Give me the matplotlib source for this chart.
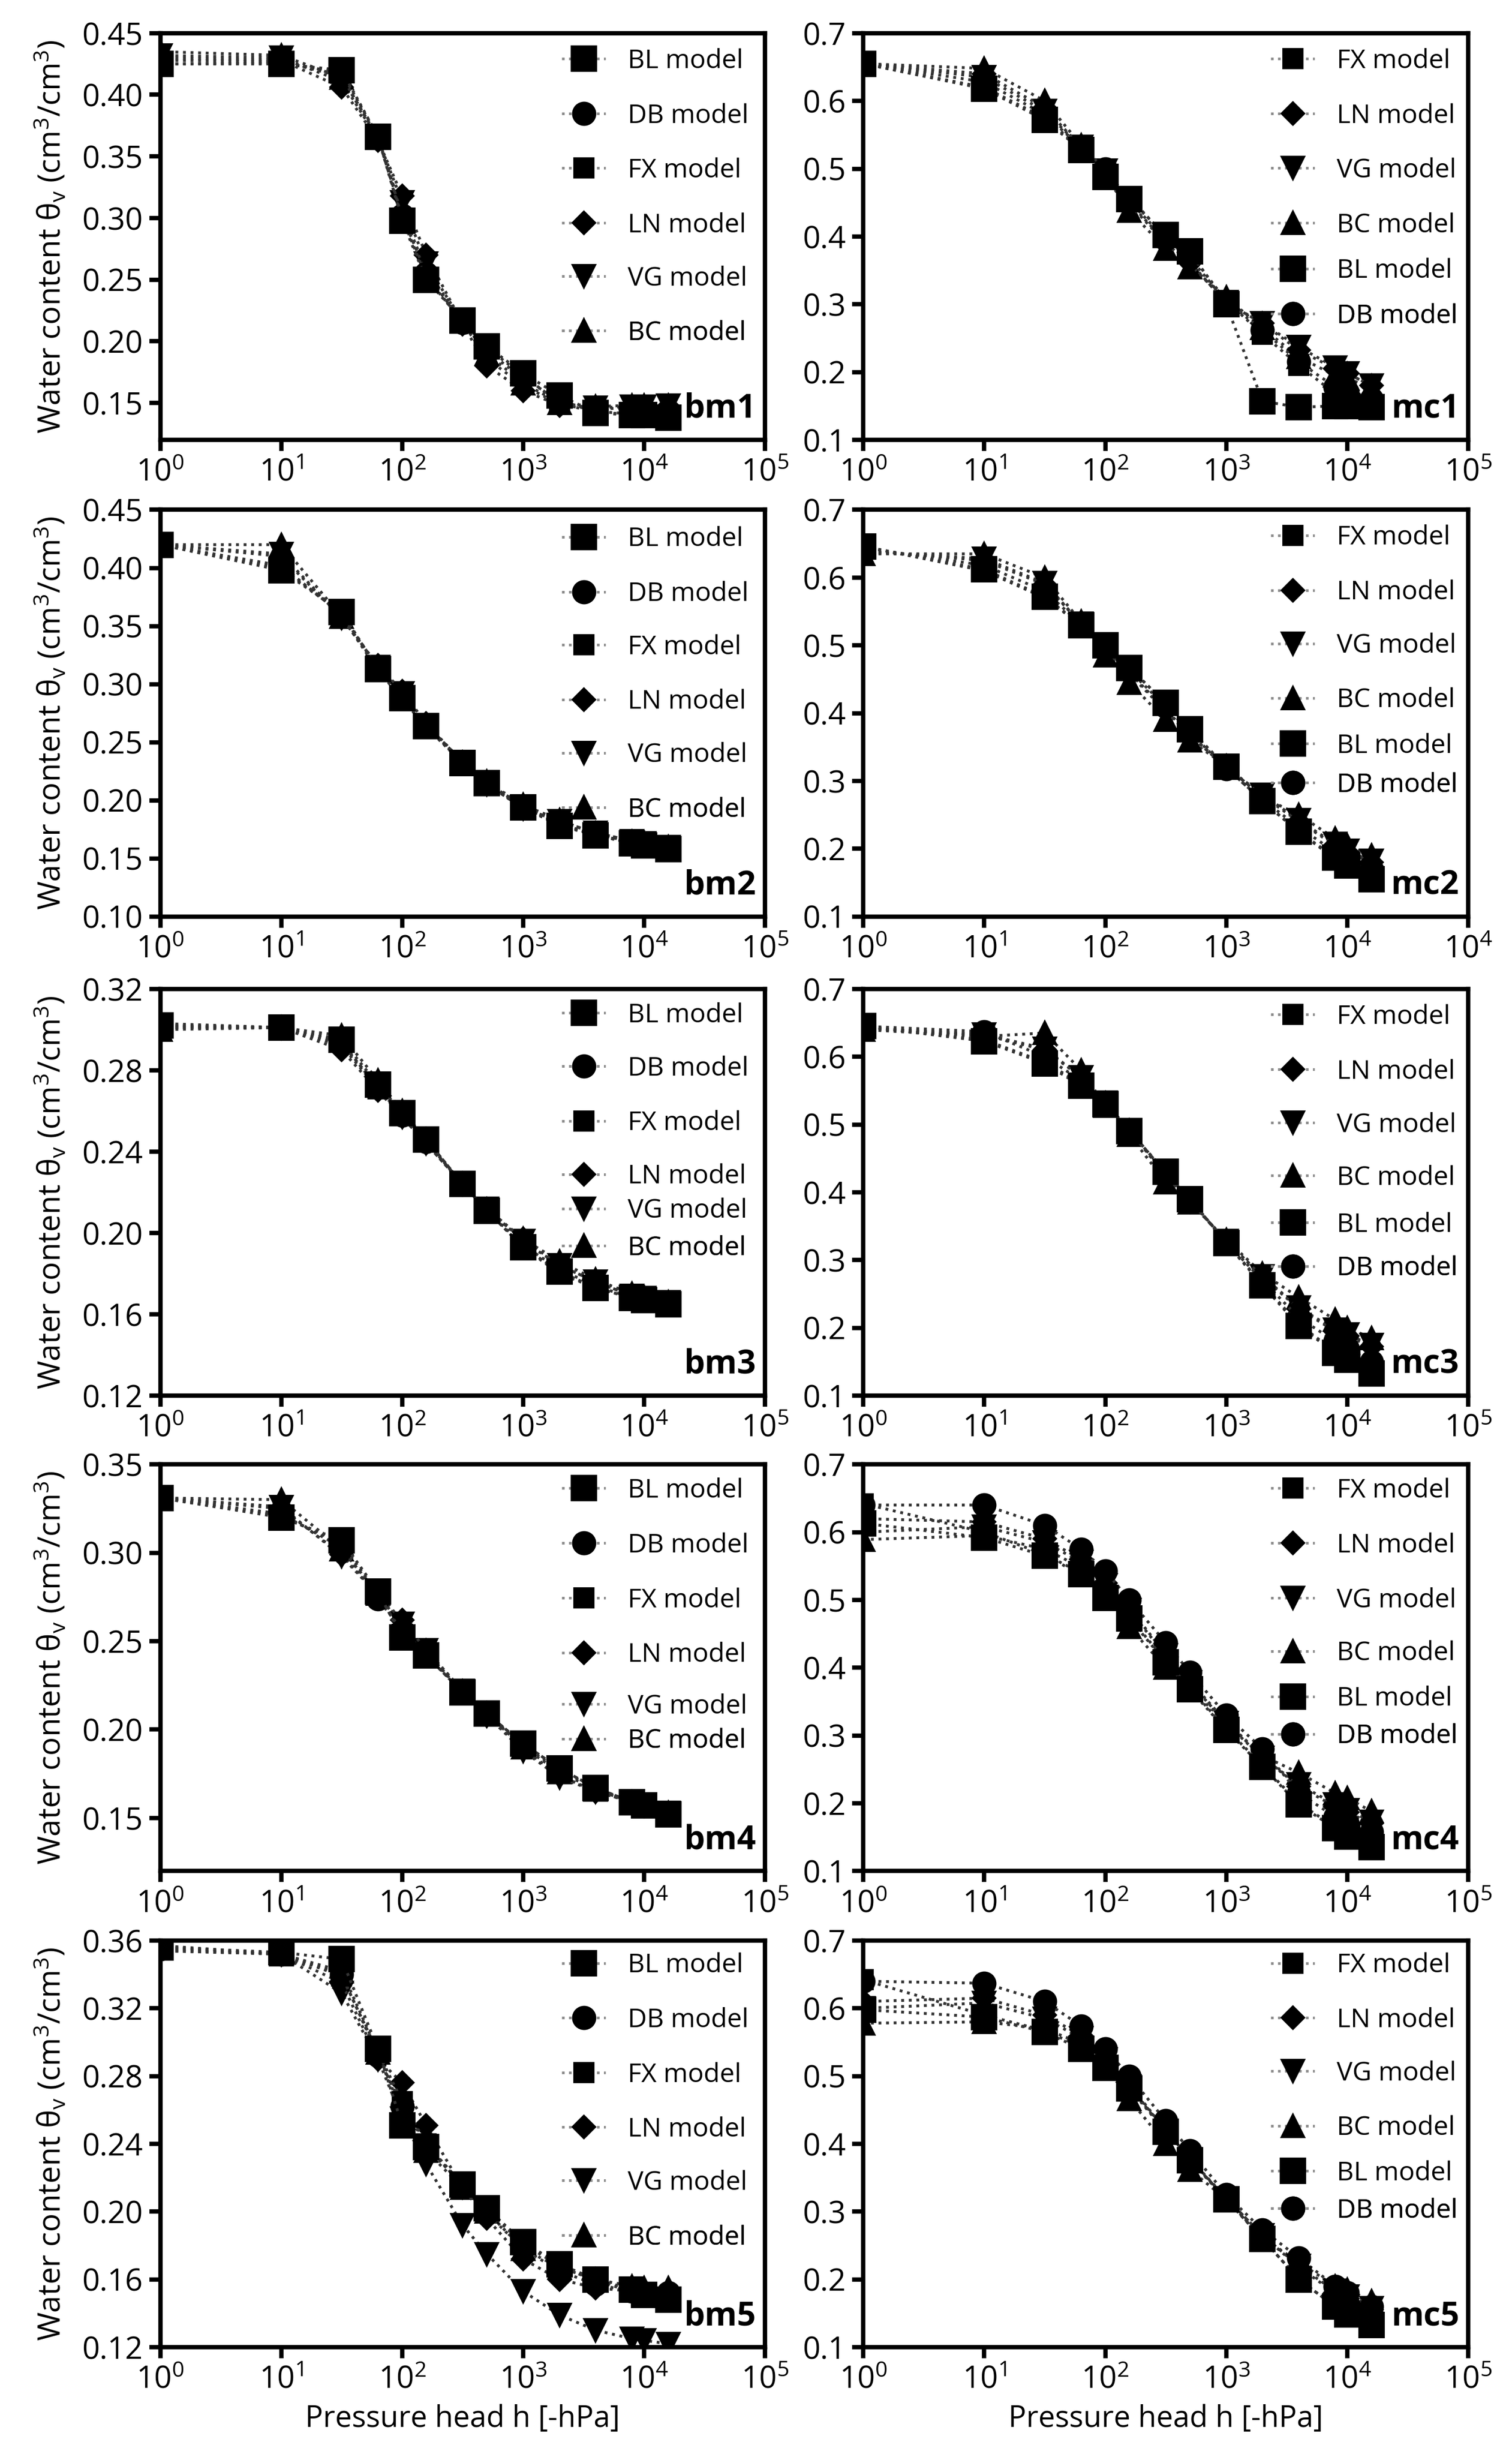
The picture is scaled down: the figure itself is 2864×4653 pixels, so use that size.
import matplotlib
matplotlib.use("Agg")
import matplotlib.pyplot as plt
from matplotlib.lines import Line2D
from matplotlib.ticker import FixedLocator, LogLocator, NullLocator, FormatStrFormatter

plt.rcParams["font.family"] = ["Open Sans", "DejaVu Sans"]
plt.rcParams["mathtext.fontset"] = "custom"
plt.rcParams["mathtext.rm"] = "Open Sans"
plt.rcParams["mathtext.it"] = "Open Sans:italic"
plt.rcParams["mathtext.bf"] = "Open Sans:bold"

# pressure heads (hPa) of the measured points
h = [1, 10, 31.6, 63.1, 100, 158, 316, 501, 1000, 1995, 3981, 7943, 10000, 15849]

bm1 = {
    "BL": [0.425, 0.425, 0.420, 0.366, 0.298, 0.250, 0.217, 0.196, 0.174, 0.156, 0.142, 0.140, 0.140, 0.138],
    "DB": [0.428, 0.427, 0.415, 0.365, 0.302, 0.255, 0.215, 0.192, 0.170, 0.152, 0.143, 0.141, 0.140, 0.139],
    "FX": [0.425, 0.426, 0.418, 0.366, 0.300, 0.252, 0.216, 0.195, 0.172, 0.150, 0.142, 0.141, 0.140, 0.139],
    "LN": [0.430, 0.428, 0.406, 0.363, 0.318, 0.270, 0.214, 0.180, 0.160, 0.148, 0.145, 0.146, 0.146, 0.147],
    "VG": [0.432, 0.430, 0.411, 0.364, 0.313, 0.263, 0.215, 0.186, 0.164, 0.149, 0.146, 0.147, 0.147, 0.148],
    "BC": [0.435, 0.432, 0.414, 0.365, 0.305, 0.258, 0.216, 0.190, 0.166, 0.150, 0.147, 0.148, 0.148, 0.148],
}
mc1 = {
    "FX": [0.655, 0.620, 0.575, 0.530, 0.495, 0.458, 0.400, 0.375, 0.305, 0.256, 0.210, 0.168, 0.160, 0.150],
    "LN": [0.655, 0.640, 0.590, 0.532, 0.498, 0.450, 0.392, 0.362, 0.302, 0.272, 0.232, 0.205, 0.198, 0.180],
    "VG": [0.655, 0.635, 0.585, 0.532, 0.497, 0.448, 0.390, 0.360, 0.303, 0.272, 0.237, 0.207, 0.198, 0.180],
    "BC": [0.655, 0.648, 0.600, 0.535, 0.490, 0.438, 0.382, 0.355, 0.310, 0.265, 0.222, 0.195, 0.190, 0.178],
    "BL": [0.655, 0.618, 0.572, 0.528, 0.488, 0.455, 0.402, 0.378, 0.300, 0.157, 0.148, 0.150, 0.150, 0.148],
    "DB": [0.655, 0.628, 0.580, 0.532, 0.500, 0.452, 0.396, 0.368, 0.304, 0.262, 0.215, 0.178, 0.170, 0.160],
}
bm2 = {
    "BL": [0.420, 0.398, 0.362, 0.313, 0.288, 0.264, 0.232, 0.215, 0.194, 0.178, 0.170, 0.163, 0.161, 0.158],
    "DB": [0.420, 0.402, 0.360, 0.314, 0.289, 0.265, 0.233, 0.215, 0.195, 0.180, 0.170, 0.164, 0.162, 0.160],
    "FX": [0.420, 0.400, 0.361, 0.313, 0.288, 0.264, 0.232, 0.215, 0.194, 0.179, 0.170, 0.163, 0.161, 0.159],
    "LN": [0.420, 0.410, 0.357, 0.316, 0.294, 0.266, 0.233, 0.214, 0.193, 0.182, 0.172, 0.165, 0.163, 0.160],
    "VG": [0.420, 0.412, 0.357, 0.315, 0.292, 0.265, 0.233, 0.214, 0.193, 0.182, 0.172, 0.165, 0.163, 0.160],
    "BC": [0.420, 0.420, 0.358, 0.312, 0.287, 0.263, 0.232, 0.216, 0.196, 0.183, 0.171, 0.164, 0.162, 0.160],
}
mc2 = {
    "FX": [0.646, 0.610, 0.570, 0.530, 0.500, 0.467, 0.415, 0.375, 0.320, 0.270, 0.225, 0.185, 0.173, 0.152],
    "LN": [0.640, 0.625, 0.590, 0.532, 0.495, 0.460, 0.405, 0.368, 0.320, 0.278, 0.240, 0.205, 0.195, 0.180],
    "VG": [0.638, 0.628, 0.592, 0.532, 0.494, 0.458, 0.403, 0.367, 0.320, 0.280, 0.242, 0.207, 0.197, 0.182],
    "BC": [0.635, 0.635, 0.600, 0.535, 0.485, 0.445, 0.390, 0.360, 0.322, 0.276, 0.250, 0.215, 0.205, 0.190],
    "BL": [0.646, 0.612, 0.572, 0.530, 0.500, 0.467, 0.415, 0.376, 0.321, 0.270, 0.225, 0.187, 0.175, 0.155],
    "DB": [0.644, 0.618, 0.580, 0.531, 0.498, 0.463, 0.410, 0.372, 0.318, 0.272, 0.232, 0.195, 0.182, 0.165],
}
bm3 = {
    "BL": [0.302, 0.301, 0.295, 0.273, 0.259, 0.246, 0.224, 0.211, 0.193, 0.181, 0.173, 0.168, 0.167, 0.165],
    "DB": [0.301, 0.301, 0.293, 0.272, 0.258, 0.245, 0.224, 0.211, 0.194, 0.182, 0.174, 0.168, 0.167, 0.166],
    "FX": [0.302, 0.301, 0.294, 0.271, 0.258, 0.245, 0.224, 0.211, 0.193, 0.180, 0.173, 0.168, 0.167, 0.165],
    "LN": [0.303, 0.301, 0.290, 0.270, 0.257, 0.244, 0.224, 0.212, 0.197, 0.184, 0.176, 0.169, 0.168, 0.166],
    "VG": [0.301, 0.301, 0.292, 0.271, 0.257, 0.244, 0.224, 0.212, 0.196, 0.184, 0.176, 0.169, 0.168, 0.166],
    "BC": [0.300, 0.301, 0.297, 0.275, 0.260, 0.246, 0.224, 0.211, 0.197, 0.186, 0.177, 0.170, 0.168, 0.166],
}
mc3 = {
    "FX": [0.645, 0.625, 0.592, 0.560, 0.530, 0.490, 0.430, 0.390, 0.325, 0.265, 0.205, 0.165, 0.155, 0.135],
    "LN": [0.642, 0.632, 0.610, 0.570, 0.532, 0.492, 0.425, 0.388, 0.328, 0.275, 0.228, 0.195, 0.188, 0.172],
    "VG": [0.642, 0.633, 0.612, 0.570, 0.532, 0.492, 0.424, 0.387, 0.328, 0.276, 0.230, 0.197, 0.190, 0.175],
    "BC": [0.640, 0.630, 0.635, 0.580, 0.528, 0.485, 0.415, 0.385, 0.330, 0.280, 0.245, 0.212, 0.200, 0.185],
    "BL": [0.645, 0.623, 0.590, 0.557, 0.530, 0.490, 0.430, 0.390, 0.325, 0.263, 0.203, 0.163, 0.153, 0.133],
    "DB": [0.645, 0.637, 0.600, 0.565, 0.532, 0.492, 0.428, 0.390, 0.326, 0.270, 0.215, 0.180, 0.170, 0.150],
}
bm4 = {
    "BL": [0.331, 0.320, 0.307, 0.278, 0.252, 0.242, 0.221, 0.209, 0.192, 0.178, 0.167, 0.159, 0.157, 0.152],
    "DB": [0.331, 0.322, 0.303, 0.274, 0.256, 0.243, 0.221, 0.209, 0.191, 0.177, 0.167, 0.159, 0.157, 0.153],
    "FX": [0.331, 0.321, 0.305, 0.277, 0.254, 0.242, 0.221, 0.209, 0.192, 0.178, 0.167, 0.159, 0.157, 0.152],
    "LN": [0.331, 0.325, 0.299, 0.276, 0.262, 0.245, 0.222, 0.208, 0.189, 0.174, 0.165, 0.159, 0.157, 0.153],
    "VG": [0.331, 0.326, 0.298, 0.276, 0.260, 0.245, 0.222, 0.208, 0.188, 0.173, 0.165, 0.159, 0.157, 0.153],
    "BC": [0.331, 0.330, 0.302, 0.277, 0.258, 0.244, 0.221, 0.209, 0.190, 0.176, 0.166, 0.159, 0.157, 0.153],
}
mc4 = {
    "FX": [0.642, 0.600, 0.567, 0.540, 0.505, 0.475, 0.410, 0.370, 0.310, 0.256, 0.200, 0.165, 0.153, 0.133],
    "LN": [0.620, 0.615, 0.590, 0.560, 0.525, 0.488, 0.420, 0.380, 0.320, 0.268, 0.225, 0.195, 0.187, 0.170],
    "VG": [0.600, 0.608, 0.585, 0.556, 0.522, 0.485, 0.418, 0.378, 0.318, 0.267, 0.228, 0.198, 0.190, 0.173],
    "BC": [0.589, 0.595, 0.575, 0.548, 0.512, 0.460, 0.400, 0.368, 0.320, 0.270, 0.245, 0.215, 0.208, 0.188],
    "BL": [0.613, 0.592, 0.565, 0.538, 0.503, 0.473, 0.408, 0.368, 0.308, 0.254, 0.198, 0.163, 0.151, 0.135],
    "DB": [0.640, 0.640, 0.610, 0.575, 0.543, 0.500, 0.437, 0.393, 0.330, 0.280, 0.215, 0.180, 0.170, 0.158],
}
bm5 = {
    "BL": [0.356, 0.353, 0.349, 0.296, 0.251, 0.238, 0.216, 0.202, 0.182, 0.169, 0.160, 0.154, 0.151, 0.148],
    "DB": [0.355, 0.352, 0.340, 0.292, 0.262, 0.240, 0.215, 0.199, 0.178, 0.165, 0.157, 0.153, 0.151, 0.152],
    "FX": [0.356, 0.352, 0.339, 0.294, 0.265, 0.240, 0.216, 0.201, 0.181, 0.168, 0.159, 0.153, 0.151, 0.149],
    "LN": [0.354, 0.352, 0.335, 0.290, 0.276, 0.251, 0.214, 0.196, 0.172, 0.160, 0.155, 0.153, 0.152, 0.153],
    "VG": [0.354, 0.352, 0.329, 0.290, 0.255, 0.228, 0.192, 0.175, 0.153, 0.139, 0.130, 0.125, 0.124, 0.122],
    "BC": [0.357, 0.352, 0.342, 0.294, 0.258, 0.236, 0.214, 0.200, 0.178, 0.167, 0.160, 0.156, 0.155, 0.155],
}
mc5 = {
    "FX": [0.642, 0.590, 0.567, 0.543, 0.515, 0.485, 0.420, 0.378, 0.318, 0.260, 0.200, 0.160, 0.148, 0.133],
    "LN": [0.610, 0.615, 0.590, 0.560, 0.528, 0.488, 0.420, 0.378, 0.320, 0.265, 0.218, 0.180, 0.172, 0.155],
    "VG": [0.600, 0.608, 0.585, 0.556, 0.525, 0.485, 0.418, 0.376, 0.320, 0.265, 0.220, 0.183, 0.175, 0.158],
    "BC": [0.578, 0.580, 0.570, 0.548, 0.515, 0.466, 0.400, 0.362, 0.318, 0.262, 0.225, 0.190, 0.185, 0.168],
    "BL": [0.598, 0.587, 0.565, 0.540, 0.512, 0.482, 0.418, 0.376, 0.318, 0.260, 0.200, 0.160, 0.148, 0.133],
    "DB": [0.640, 0.637, 0.610, 0.574, 0.540, 0.500, 0.434, 0.390, 0.325, 0.273, 0.232, 0.190, 0.180, 0.160],
}

left_order = ["BL", "DB", "FX", "LN", "VG", "BC"]
right_order = ["FX", "LN", "VG", "BC", "BL", "DB"]

# y axis settings per soil: (limits, ticks)
bm_axes = [
    ((0.12, 0.45), [0.15, 0.20, 0.25, 0.30, 0.35, 0.40, 0.45]),
    ((0.10, 0.45), [0.10, 0.15, 0.20, 0.25, 0.30, 0.35, 0.40, 0.45]),
    ((0.12, 0.32), [0.12, 0.16, 0.20, 0.24, 0.28, 0.32]),
    ((0.12, 0.35), [0.15, 0.20, 0.25, 0.30, 0.35]),
    ((0.12, 0.36), [0.12, 0.16, 0.20, 0.24, 0.28, 0.32, 0.36]),
]
mc_ticks = [0.1, 0.2, 0.3, 0.4, 0.5, 0.6, 0.7]

# legend row centres, as distance below the top of each panel (axes fraction)
bm_rows = [
    [0.069, 0.204, 0.338, 0.473, 0.604, 0.738],
    [0.073, 0.208, 0.338, 0.473, 0.604, 0.738],
    [0.065, 0.196, 0.331, 0.462, 0.546, 0.638],
    [0.065, 0.200, 0.335, 0.469, 0.596, 0.681],
    [0.062, 0.196, 0.331, 0.465, 0.596, 0.731],
]
mc_rows = [
    [0.069, 0.204, 0.338, 0.473, 0.585, 0.696],
    [0.069, 0.204, 0.335, 0.469, 0.581, 0.677],
    [0.069, 0.204, 0.335, 0.465, 0.581, 0.688],
    [0.065, 0.200, 0.335, 0.465, 0.577, 0.669],
    [0.062, 0.196, 0.327, 0.462, 0.573, 0.665],
]

style = {
    "BL": dict(marker="s", ms=11),
    "DB": dict(marker="o", ms=10),
    "FX": dict(marker="s", ms=8.5),
    "LN": dict(marker="D", ms=7),
    "VG": dict(marker="v", ms=10),
    "BC": dict(marker="^", ms=10),
}

fig = plt.figure(figsize=(2864 / 300, 4653 / 300), dpi=300)

col_x = [0.106, 0.571]
row_y = [0.821, 0.627, 0.432, 0.2385, 0.0447]
aw, ah = 0.400, 0.1655

left_data = [bm1, bm2, bm3, bm4, bm5]
right_data = [mc1, mc2, mc3, mc4, mc5]


def draw_panel(ax, data, order, rows, leg_x, name, ylim, yticks, fmt):
    # draw squares last so they sit on top like the original
    for key in ["BC", "VG", "LN", "DB", "FX", "BL"]:
        ax.plot(h, data[key], color="0.2", ls=":", lw=1.3,
                mfc="k", mec="k", **style[key])
    ax.set_xscale("log")
    ax.set_xlim(1, 1e5)
    ax.xaxis.set_major_locator(LogLocator(base=10, numticks=10))
    ax.xaxis.set_minor_locator(NullLocator())
    ax.set_ylim(*ylim)
    ax.yaxis.set_major_locator(FixedLocator(yticks))
    ax.yaxis.set_major_formatter(FormatStrFormatter(fmt))
    for s in ax.spines.values():
        s.set_linewidth(2.0)
    ax.tick_params(direction="out", length=5, width=2.0, labelsize=14, pad=3)

    # one small legend per entry so the row spacing can follow the original
    for k, yy in zip(order, rows):
        handle = Line2D([], [], color="0.55", ls=":", lw=1.2, mfc="k", mec="k", **style[k])
        leg = ax.legend([handle], [k + " model"], loc="center left",
                        bbox_to_anchor=(leg_x, 1 - yy), frameon=False,
                        fontsize=12, handlelength=1.65, handletextpad=0.85,
                        borderpad=0, borderaxespad=0)
        ax.add_artist(leg)
    ax.text(0.985, 0.035, name, transform=ax.transAxes, ha="right", va="bottom",
            fontsize=15, fontweight="bold")


for i in range(5):
    ax = fig.add_axes([col_x[0], row_y[i], aw, ah])
    ylim, yticks = bm_axes[i]
    draw_panel(ax, left_data[i], left_order, bm_rows[i], 0.664,
               "bm%d" % (i + 1), ylim, yticks, "%.2f")
    ax.set_ylabel("Water content θ$_\\mathregular{v}$ (cm$^\\mathregular{3}$/cm$^\\mathregular{3}$)",
                  fontsize=14, labelpad=6)
    if i == 4:
        ax.set_xlabel("Pressure head h [-hPa]", fontsize=13.5, labelpad=4)

    ax = fig.add_axes([col_x[1], row_y[i], aw, ah])
    draw_panel(ax, right_data[i], right_order, mc_rows[i], 0.674,
               "mc%d" % (i + 1), (0.1, 0.7), mc_ticks, "%.1f")
    if i == 1:
        # the original panel repeats 10^4 as its last tick label
        ax.xaxis.set_major_locator(FixedLocator([1, 10, 100, 1000, 1e4, 1e5]))
        ax.set_xticklabels(["$10^{0}$", "$10^{1}$", "$10^{2}$", "$10^{3}$", "$10^{4}$", "$10^{4}$"])
    if i == 4:
        ax.set_xlabel("Pressure head h [-hPa]", fontsize=13.5, labelpad=4)

fig.savefig("out.png", dpi=300)
